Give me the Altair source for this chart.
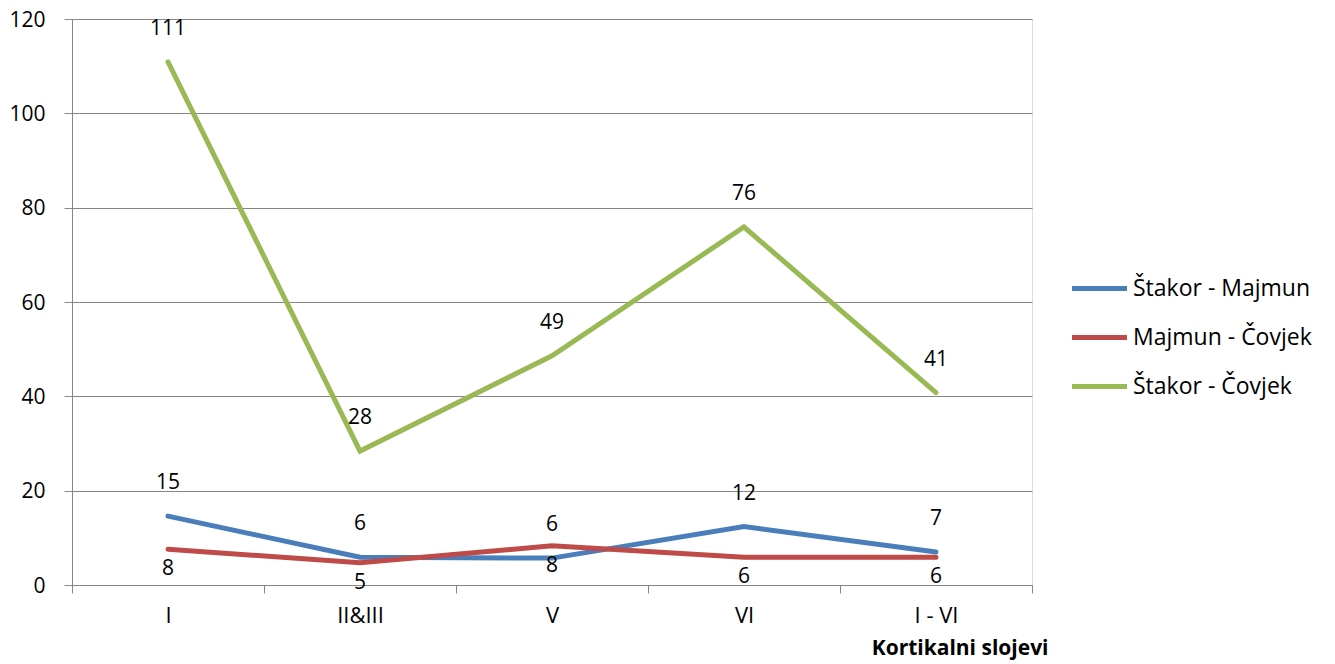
import altair as alt
import pandas as pd

categories = ["I", "II&III", "V", "VI", "I - VI"]
series_names = ["Štakor - Majmun", "Majmun - Čovjek", "Štakor - Čovjek"]
stakor_majmun = [14.6, 5.9, 5.7, 12.4, 7.0]
majmun_covjek = [7.6, 4.7, 8.3, 5.9, 5.9]
stakor_covjek = [110.9, 28.4, 48.6, 75.9, 40.8]
colors = ["#4A7EBB", "#BE4B48", "#98B954"]

rows = []
for name, vals in zip(series_names, [stakor_majmun, majmun_covjek, stakor_covjek]):
    for c, v in zip(categories, vals):
        rows.append({"sloj": c, "serija": name, "vrijednost": v})
df = pd.DataFrame(rows)

FONT = "Open Sans"
GRAY = "#868686"
FS = 21

x_enc = alt.X(
    "sloj:N",
    sort=categories,
    scale=alt.Scale(paddingInner=0, paddingOuter=0),
    axis=alt.Axis(
        title="Kortikalni slojevi",
        titleFont=FONT,
        titleFontSize=21,
        titleFontWeight="bold",
        titleAnchor="end",
        titleAlign="right",
        titleBaseline="middle",
        titleX=976,
        titleY=63,
        labelAngle=0,
        labelFont=FONT,
        labelFontSize=22,
        labelColor="black",
        labelPadding=12,
        tickBand="extent",
        tickSize=8,
        tickColor=GRAY,
        domainColor=GRAY,
        grid=False,
    ),
)
y_enc = alt.Y(
    "vrijednost:Q",
    scale=alt.Scale(domain=[0, 120], nice=False),
    axis=alt.Axis(
        title=None,
        values=[0, 20, 40, 60, 80, 100, 120],
        labelFont=FONT,
        labelFontSize=FS,
        labelColor="black",
        labelPadding=19,
        labelBaseline="middle",
        labelOffset=1,
        tickSize=8,
        tickColor=GRAY,
        domainColor=GRAY,
        grid=True,
        gridColor=GRAY,
        gridWidth=1,
    ),
)
color_enc = alt.Color(
    "serija:N",
    scale=alt.Scale(domain=series_names, range=colors),
    legend=alt.Legend(
        title=None,
        orient="none",
        legendX=1016,
        legendY=258,
        padding=0,
        symbolType="M-5,0H5",
        symbolSize=121,
        symbolStrokeWidth=5,
        labelOffset=22,
        labelFont=FONT,
        labelFontSize=23,
        labelLimit=400,
        labelColor="black",
        rowPadding=25,
    ),
)

base = alt.Chart(df)
lines = base.mark_line(strokeWidth=5, strokeCap="round").encode(
    x=x_enc, y=y_enc, color=color_enc, order=alt.Order("serija:N")
)
labels_above = base.transform_filter(
    alt.datum.serija != "Majmun - Čovjek"
).mark_text(font=FONT, fontSize=FS, dy=-33, color="black").encode(
    x=alt.X("sloj:N", sort=categories),
    y="vrijednost:Q",
    text=alt.Text("vrijednost:Q", format=".0f"),
)
labels_below = base.transform_filter(
    alt.datum.serija == "Majmun - Čovjek"
).mark_text(font=FONT, fontSize=FS, dy=20, color="black").encode(
    x=alt.X("sloj:N", sort=categories),
    y="vrijednost:Q",
    text=alt.Text("vrijednost:Q", format=".0f"),
)

chart = alt.layer(lines, labels_above, labels_below).properties(
    width=960,
    height=566,
    autosize=alt.AutoSizeParams(type="none"),
    padding={"left": 64, "top": 11, "right": 295, "bottom": 78},
).configure_view(stroke=None).configure(font=FONT, background="white")

chart.save("out.html", embed_options={"renderer": "svg", "actions": False})
